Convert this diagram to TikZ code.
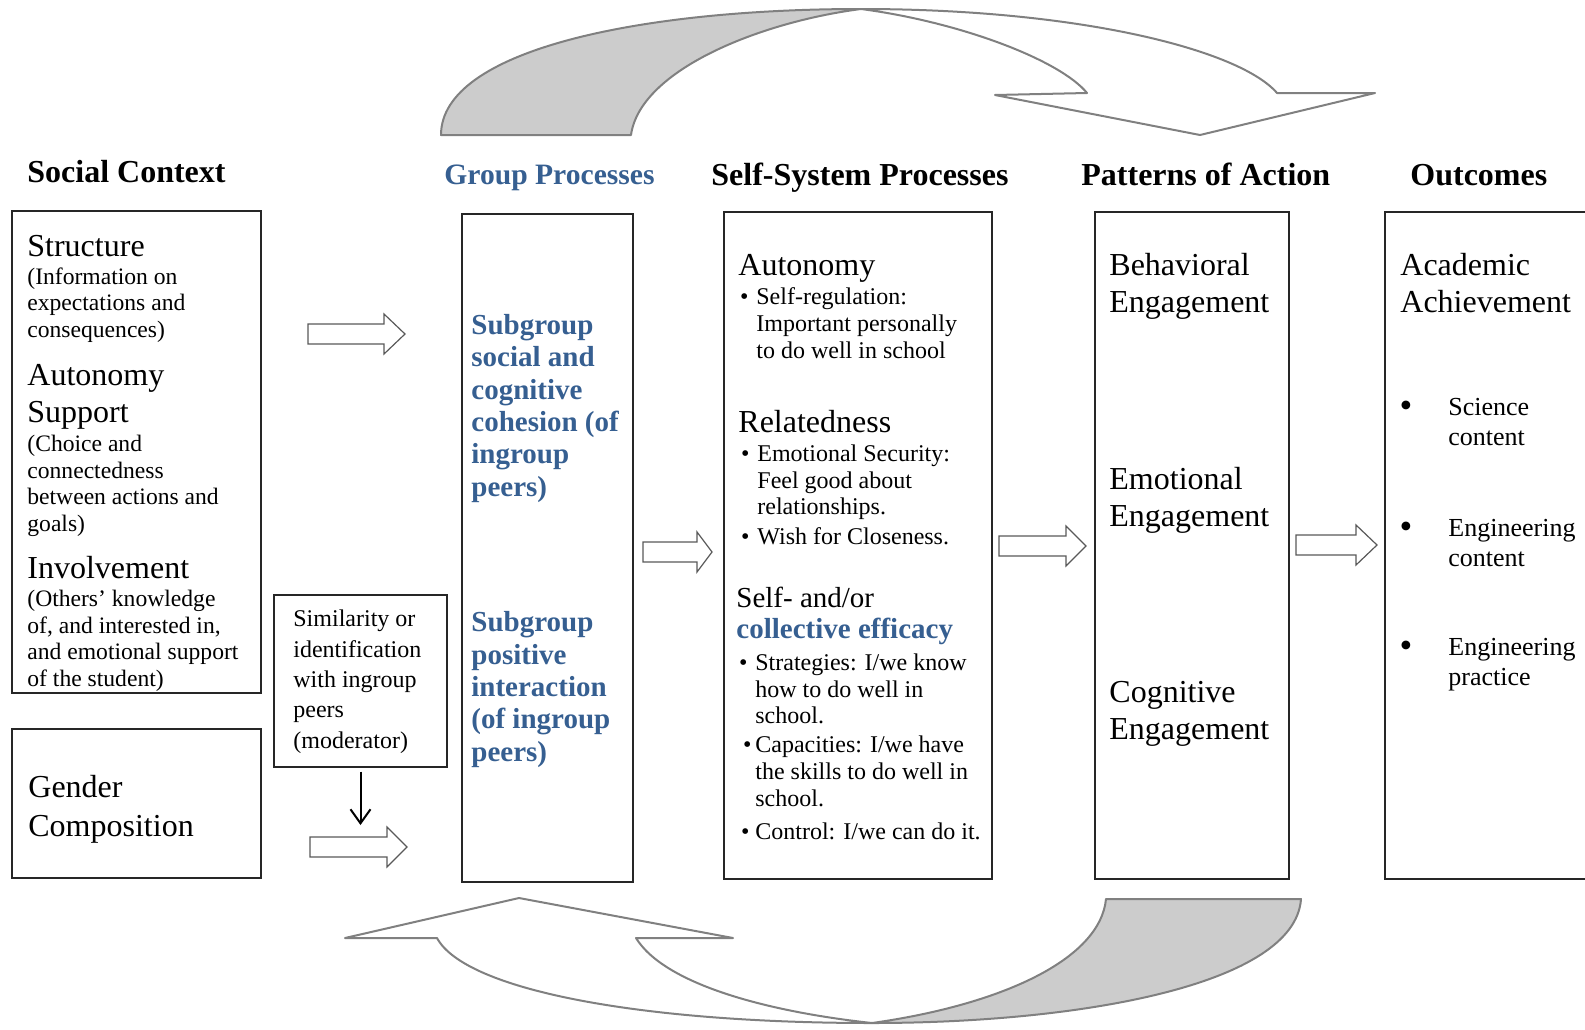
\documentclass[tikz,border=0pt]{standalone}
\usepackage{fontspec}
\setmainfont{Liberation Serif}
\usetikzlibrary{arrows.meta}
\definecolor{GrpBlue}{RGB}{54,95,145}
\definecolor{BandGray}{RGB}{204,204,204}
\definecolor{BandLine}{RGB}{128,128,128}

\begin{document}
\begin{tikzpicture}[x=0.5pt,y=-0.5pt,
  box/.style={draw=black!85,line width=0.7pt,inner sep=0pt},
  % multi-line texts sit on the baseline of their last line
  txt/.style={anchor=base west,inner sep=0pt,align=left},
  head/.style={txt,font=\fontsize{16}{19}\selectfont\bfseries},
  big/.style={txt,font=\fontsize{16}{18.2}\selectfont},
  note/.style={txt,font=\fontsize{11.8}{13.2}\selectfont},
  grp/.style={txt,text=GrpBlue,font=\fontsize{14.5}{16.15}\selectfont\bfseries},
  bul/.style={txt,font=\fontsize{12}{13.3}\selectfont},
  outbul/.style={txt,font=\fontsize{13}{14.65}\selectfont},
  fatarr/.style={draw=black!65,fill=white,line width=0.6pt,line join=miter},
  band/.style={draw=BandLine,line width=1pt,line join=round},
]
\useasboundingbox (0,0) rectangle (1585,1029);
\clip (0,0) rectangle (1585,1029);

% curved feedback bands
\filldraw[band,fill=BandGray] (441,135) .. controls (441,50) and (640,9) .. (861,9)
  .. controls (760,22) and (640,70) .. (631,135) -- cycle;
\filldraw[band,fill=white] (861,9) .. controls (1080,9) and (1240,50) .. (1277,93)
  -- (1375,93) -- (1200,135) -- (995,95) -- (1087,93)
  .. controls (1060,60) and (960,22) .. (861,9) -- cycle;
\filldraw[band,fill=BandGray] (1106,899) -- (1301,899) .. controls (1295,985) and (1080,1023) .. (872,1023)
  .. controls (1000,1005) and (1100,960) .. (1106,899) -- cycle;
\filldraw[band,fill=white] (872,1023) .. controls (640,1023) and (465,990) .. (437,938)
  -- (345,938) -- (519,898) -- (733,938) -- (636,938)
  .. controls (665,985) and (770,1012) .. (872,1023) -- cycle;

% column headings
\node[head] (h-social) at (27,182) {Social Context};
\node[head,text=GrpBlue,font=\fontsize{14.8}{19}\selectfont\bfseries] (h-group) at (444,184) {Group Processes};
\node[head] (h-self) at (711,185) {Self-System Processes};
\node[head] (h-action) at (1081,185) {Patterns of Action};
\node[head] (h-outcome) at (1410,185) {Outcomes};

% boxes
\node[box,minimum width=124.5pt,minimum height=241pt] (social) at (136.5,452) {};
\node[box,minimum width=124.5pt,minimum height=74.5pt] (gender) at (136.5,803.5) {};
\node[box,minimum width=86.5pt,minimum height=86pt] (moder) at (360.5,681) {};
\node[box,minimum width=85.5pt,minimum height=334pt] (group) at (547.5,548) {};
\node[box,minimum width=134pt,minimum height=333.5pt] (selfsys) at (858,545.5) {};
\node[box,minimum width=97pt,minimum height=333.5pt] (action) at (1192,545.5) {};
\node[box,minimum width=110pt,minimum height=333.5pt] (outcome) at (1495,545.5) {};

% social context
\node[big] (struct) at (27,256) {Structure};
\node[note] (struct-d) at (27,337) {(Information on\\expectations and\\consequences)};
\node[big] (autsup) at (27,422) {Autonomy\\Support};
\node[note] (autsup-d) at (27,531) {(Choice and\\connectedness\\between actions and\\goals)};
\node[big] (involve) at (27,578) {Involvement};
\node[note] (involve-d) at (27,686) {(Others' knowledge\\of, and interested in,\\and emotional support\\of the student)};
\node[big,font=\fontsize{16}{19.2}\selectfont] (gender-t) at (28,836) {Gender\\Composition};
\node[txt,font=\fontsize{12}{15.15}\selectfont] (moder-t) at (293,748)
  {Similarity or\\identification\\with ingroup\\peers\\(moderator)};

% group processes
\node[grp] (cohesion) at (471,496) {Subgroup\\social and\\cognitive\\cohesion (of\\ingroup\\peers)};
\node[grp] (interact) at (471,761) {Subgroup\\positive\\interaction\\(of ingroup\\peers)};

% self-system processes
\node[big] (auton) at (738,275) {Autonomy};
\node[bul] (auton-b) at (756,358) {\llap{\textbullet\hspace{4pt}}Self-regulation:\\Important personally\\to do well in school};
\node[big] (relat) at (738,432) {Relatedness};
\node[bul] (relat-b) at (757,544) {\llap{\textbullet\hspace{4pt}}Emotional Security:\\Feel good about\\relationships.\\[1.3pt]
  \llap{\textbullet\hspace{4pt}}Wish for Closeness.};
\node[big,font=\fontsize{14.5}{17}\selectfont] (effic) at (736,607) {Self- and/or};
\node[grp] (effic-c) at (736,638) {collective efficacy};
\node[bul] (effic-b) at (755,839) {\llap{\textbullet\hspace{4pt}}Strategies: I/we know\\how to do well in\\school.\\[1.2pt]
  \llap{\textbullet\hspace{2pt}}Capacities: I/we have\\the skills to do well in\\school.\\[3.2pt]
  \llap{\textbullet\hspace{3pt}}Control: I/we can do it.};

% patterns of action
\node[big] (behav) at (1109,312) {Behavioral\\Engagement};
\node[big] (emot) at (1109,526) {Emotional\\Engagement};
\node[big] (cogn) at (1109,739) {Cognitive\\Engagement};

% outcomes
\node[big] (achieve) at (1400,312) {Academic\\Achievement};
\node[outbul] (sci) at (1448,445) {\llap{\raisebox{-1pt}{\scalebox{1.4}{\textbullet}}\hspace{18pt}}Science\\content};
\node[outbul] (engc) at (1448,566) {\llap{\raisebox{-1pt}{\scalebox{1.4}{\textbullet}}\hspace{18pt}}Engineering\\content};
\node[outbul] (engp) at (1448,685) {\llap{\raisebox{-1pt}{\scalebox{1.4}{\textbullet}}\hspace{18pt}}Engineering\\practice};

% block arrows between the columns
\foreach \x/\y/\l/\h in {308/334/97/21, 310/847/97/20, 643/552/69/15, 999/546/87/20, 1296/545/81/21}
  \draw[fatarr] (\x,\y-10) -- (\x+\l-\h,\y-10) -- (\x+\l-\h,\y-20) -- (\x+\l,\y)
    -- (\x+\l-\h,\y+20) -- (\x+\l-\h,\y+10) -- (\x,\y+10) -- cycle;

% moderator
\coordinate (modtip) at (360.5,825);
\draw[line width=1pt,-{Straight Barb[length=7pt,width=10pt]}] ([yshift=-2pt]moder.south) -- (modtip);
\end{tikzpicture}
\end{document}
